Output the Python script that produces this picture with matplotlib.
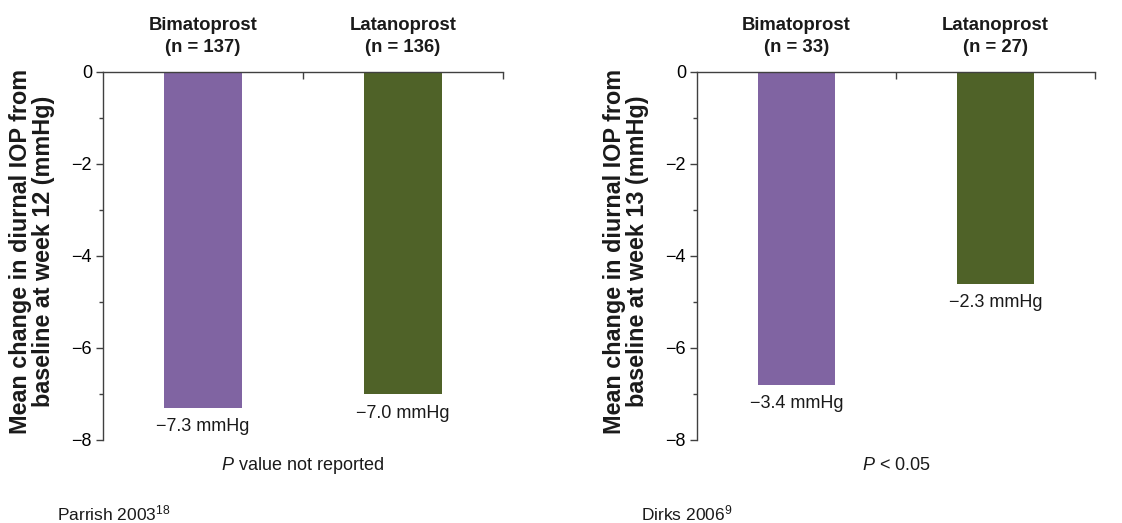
import matplotlib
matplotlib.use("Agg")
import matplotlib.pyplot as plt
from matplotlib.ticker import MultipleLocator

plt.rcParams['font.family'] = ['Liberation Sans', 'DejaVu Sans']
plt.rcParams['mathtext.fontset'] = 'custom'
plt.rcParams['mathtext.rm'] = 'Liberation Sans'
plt.rcParams['mathtext.it'] = 'Liberation Sans:italic'
plt.rcParams['mathtext.bf'] = 'Liberation Sans:bold'
plt.rcParams['axes.unicode_minus'] = True

# ---- data ----
drugs = ["Bimatoprost", "Latanoprost"]
left_n = [137, 136]
left_values = [-7.3, -7.0]
left_labels = ["−7.3 mmHg", "−7.0 mmHg"]
right_n = [33, 27]
right_values = [-6.8, -4.6]          # bar heights as drawn on the axis
right_labels = ["−3.4 mmHg", "−2.3 mmHg"]
yticks = [0, -2, -4, -6, -8]
colors = ["#8064A2", "#4F6228"]

W, H = 1122, 523
fig = plt.figure(figsize=(W / 100, H / 100), dpi=100)

axis_col = "#404040"


def panel(x0px, wpx, values, labels, ns, ylab, ptext):
    ax = fig.add_axes([x0px / W, 1 - 440 / H, wpx / W, (440 - 72) / H])
    x = list(range(len(drugs)))
    ax.bar(x, values, width=0.39, color=colors, zorder=2)
    ax.set_xlim(-0.5, 1.5)
    ax.set_ylim(-8, 0)
    for s in ["right", "bottom"]:
        ax.spines[s].set_visible(False)
    for s in ["left", "top"]:
        ax.spines[s].set_color(axis_col)
        ax.spines[s].set_linewidth(1.0)
    ax.xaxis.tick_top()
    ax.set_xticks([0.5, 1.5])
    ax.tick_params(axis="x", direction="in", length=5, width=1.0,
                   color=axis_col, labeltop=False)
    ax.set_yticks(yticks)
    ax.set_yticklabels(["0" if t == 0 else "−%d" % abs(t) for t in yticks])
    ax.yaxis.set_minor_locator(MultipleLocator(1))
    ax.tick_params(axis="y", which="major", direction="out", length=5,
                   width=1.0, color=axis_col, labelsize=13, pad=3)
    ax.tick_params(axis="y", which="minor", direction="out", length=3,
                   width=1.0, color=axis_col)
    for xi, v, lab in zip(x, values, labels):
        ax.annotate(lab, (xi, v), xytext=(0, -19), textcoords="offset pixels",
                    ha="center", va="center", fontsize=13, color="#1a1a1a")
    for xi, d, n in zip(x, drugs, ns):
        ax.annotate("%s\n(n = %d)" % (d, n), (xi, 0), xytext=(0, 16),
                    textcoords="offset pixels", ha="center", va="bottom",
                    fontsize=13.3, fontweight="bold", linespacing=1.4,
                    color="#1a1a1a")
    fig.text((x0px - 71) / W, 1 - 251 / H, ylab, rotation=90, ha="center",
             va="center", fontsize=16.8, fontweight="bold", linespacing=1.02,
             color="#1a1a1a")
    fig.text((x0px + wpx / 2) / W, 1 - 465 / H, ptext, ha="center",
             va="center", fontsize=13, color="#1a1a1a")
    return ax


panel(103, 400, left_values, left_labels, left_n,
      "Mean change in diurnal IOP from\nbaseline at week 12 (mmHg)",
      "$P$ value not reported")
panel(697, 398, right_values, right_labels, right_n,
      "Mean change in diurnal IOP from\nbaseline at week 13 (mmHg)",
      "$P$ < 0.05")

fig.text(57 / W, 1 - 513 / H, "Parrish 2003$^{18}$", ha="left", va="center",
         fontsize=12.5, color="#1a1a1a")
fig.text(641 / W, 1 - 513 / H, "Dirks 2006$^{9}$", ha="left", va="center",
         fontsize=12.5, color="#1a1a1a")

fig.savefig("out.png", dpi=100)
